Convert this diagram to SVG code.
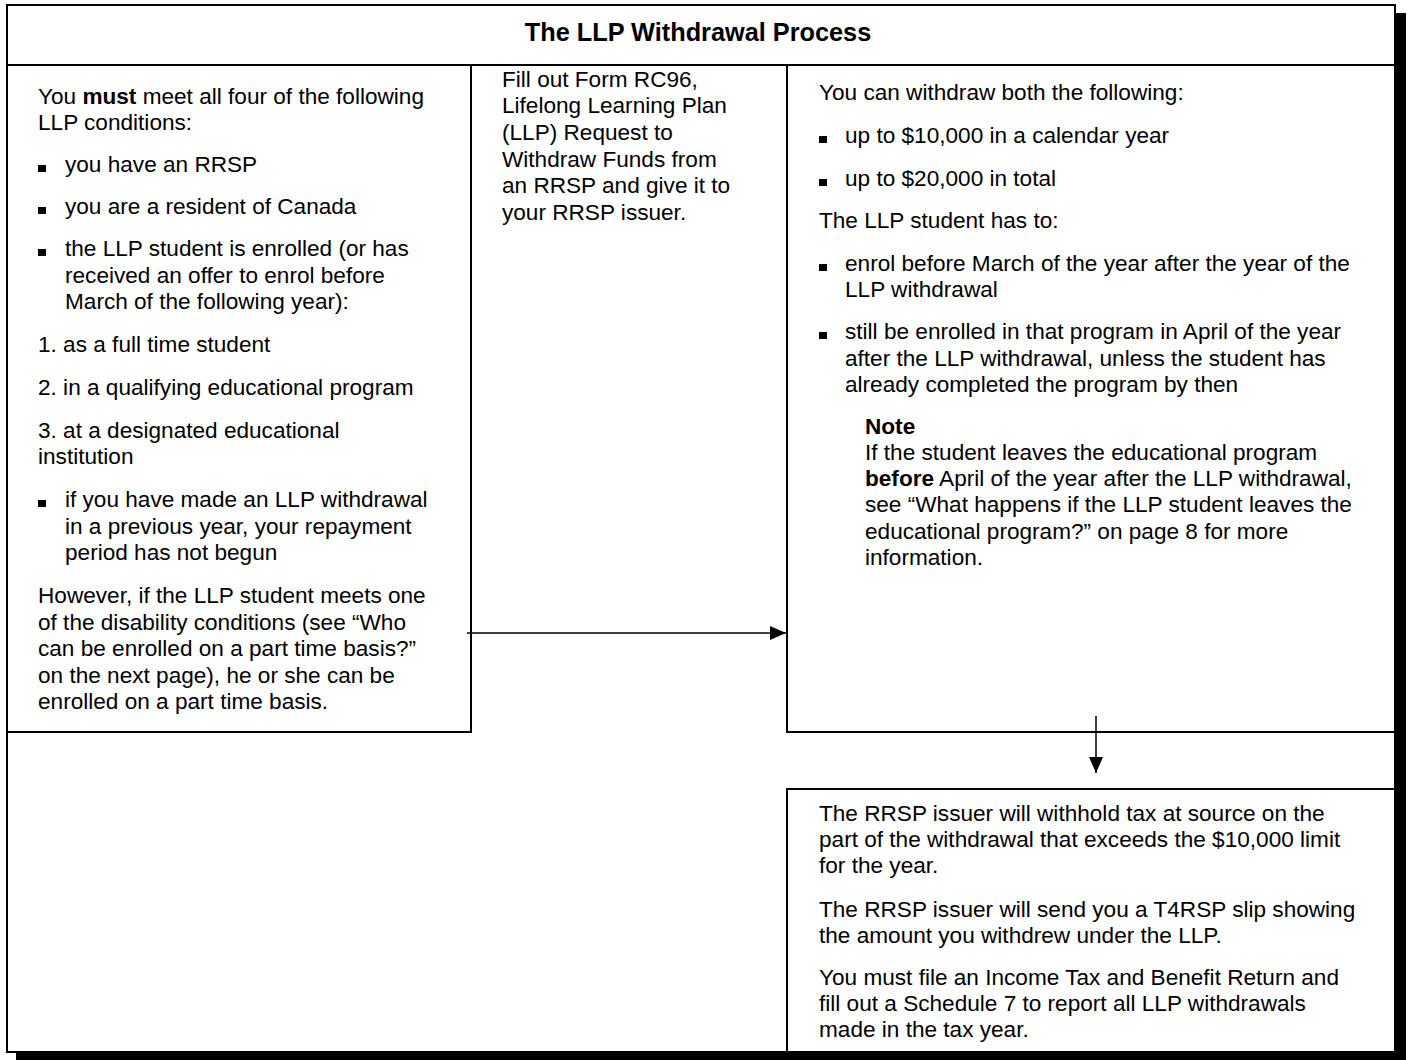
<svg xmlns="http://www.w3.org/2000/svg" width="1410" height="1060" viewBox="0 0 1410 1060">
<style>
  text { font-family: "Liberation Sans", Arial, sans-serif; font-size: 22.6px; fill: #000; }
  .b { font-weight: bold; }
  .title { font-size: 25.3px; font-weight: bold; }
  .ln { stroke: #000; stroke-width: 2; fill: none; }
  .cn { stroke: #000; stroke-width: 1.5; fill: none; }
</style>
<defs>
  <marker id="ah" viewBox="0 0 16 14" refX="16" refY="7" markerWidth="16" markerHeight="14" markerUnits="userSpaceOnUse" orient="auto">
    <path d="M0,0 L16,7 L0,14 Z" fill="#000"/>
  </marker>
</defs>
<rect x="0" y="0" width="1410" height="1060" fill="#fff"/>
<!-- shadow -->
<rect x="1396" y="13" width="10" height="1047" fill="#000"/>
<rect x="16" y="1053" width="1390" height="7" fill="#000"/>
<!-- frame -->
<g id="frame">
  <rect x="7" y="5" width="1388" height="1047" class="ln" fill="#fff"/>
</g>
<g id="title">
  <line x1="7" y1="65" x2="1395" y2="65" class="ln"/>
  <text x="698" y="41" class="title" text-anchor="middle">The LLP Withdrawal Process</text>
</g>
<g id="conditions">
  <line x1="471" y1="65" x2="471" y2="733" class="ln"/>
  <line x1="7" y1="732" x2="472" y2="732" class="ln"/>
  <text x="38" y="104">You <tspan class="b">must</tspan> meet all four of the following</text>
  <text x="38" y="130">LLP conditions:</text>
  <rect x="38" y="165" width="8" height="7"/>
  <text x="65" y="172">you have an RRSP</text>
  <rect x="38" y="207" width="8" height="7"/>
  <text x="65" y="214">you are a resident of Canada</text>
  <rect x="38" y="249" width="8" height="7"/>
  <text x="65" y="256">the LLP student is enrolled (or has</text>
  <text x="65" y="283">received an offer to enrol before</text>
  <text x="65" y="309">March of the following year):</text>
  <text x="38" y="352">1. as a full time student</text>
  <text x="38" y="395">2. in a qualifying educational program</text>
  <text x="38" y="438">3. at a designated educational</text>
  <text x="38" y="464">institution</text>
  <rect x="38" y="500" width="8" height="7"/>
  <text x="65" y="507">if you have made an LLP withdrawal</text>
  <text x="65" y="534">in a previous year, your repayment</text>
  <text x="65" y="560">period has not begun</text>
  <text x="38" y="603">However, if the LLP student meets one</text>
  <text x="38" y="630">of the disability conditions (see “Who</text>
  <text x="38" y="656">can be enrolled on a part time basis?”</text>
  <text x="38" y="683">on the next page), he or she can be</text>
  <text x="38" y="709">enrolled on a part time basis.</text>
</g>
<g id="form">
  <text x="502" y="87">Fill out Form RC96,</text>
  <text x="502" y="113">Lifelong Learning Plan</text>
  <text x="502" y="140">(LLP) Request to</text>
  <text x="502" y="167">Withdraw Funds from</text>
  <text x="502" y="193">an RRSP and give it to</text>
  <text x="502" y="220">your RRSP issuer.</text>
</g>
<g id="withdraw">
  <line x1="787" y1="65" x2="787" y2="733" class="ln"/>
  <line x1="786" y1="732" x2="1395" y2="732" class="ln"/>
  <text x="819" y="100">You can withdraw both the following:</text>
  <rect x="819" y="136" width="8" height="7"/>
  <text x="845" y="143">up to $10,000 in a calendar year</text>
  <rect x="819" y="179" width="8" height="7"/>
  <text x="845" y="186">up to $20,000 in total</text>
  <text x="819" y="228">The LLP student has to:</text>
  <rect x="819" y="264" width="8" height="7"/>
  <text x="845" y="271">enrol before March of the year after the year of the</text>
  <text x="845" y="297">LLP withdrawal</text>
  <rect x="819" y="332" width="8" height="7"/>
  <text x="845" y="339">still be enrolled in that program in April of the year</text>
  <text x="845" y="366">after the LLP withdrawal, unless the student has</text>
  <text x="845" y="392">already completed the program by then</text>
  <text x="865" y="434" class="b">Note</text>
  <text x="865" y="460">If the student leaves the educational program</text>
  <text x="865" y="486"><tspan class="b">before</tspan> April of the year after the LLP withdrawal,</text>
  <text x="865" y="512">see “What happens if the LLP student leaves the</text>
  <text x="865" y="539">educational program?” on page 8 for more</text>
  <text x="865" y="565">information.</text>
</g>
<g id="issuer">
  <line x1="786" y1="789" x2="1395" y2="789" class="ln"/>
  <line x1="787" y1="789" x2="787" y2="1052" class="ln"/>
  <text x="819" y="821">The RRSP issuer will withhold tax at source on the</text>
  <text x="819" y="847">part of the withdrawal that exceeds the $10,000 limit</text>
  <text x="819" y="873">for the year.</text>
  <text x="819" y="917">The RRSP issuer will send you a T4RSP slip showing</text>
  <text x="819" y="943">the amount you withdrew under the LLP.</text>
  <text x="819" y="985">You must file an Income Tax and Benefit Return and</text>
  <text x="819" y="1011">fill out a Schedule 7 to report all LLP withdrawals</text>
  <text x="819" y="1037">made in the tax year.</text>
</g>
<g id="connectors">
  <line x1="467" y1="633" x2="786" y2="633" class="cn" marker-end="url(#ah)"/>
  <line x1="1096" y1="716" x2="1096" y2="773" class="cn" marker-end="url(#ah)"/>
</g>
</svg>
